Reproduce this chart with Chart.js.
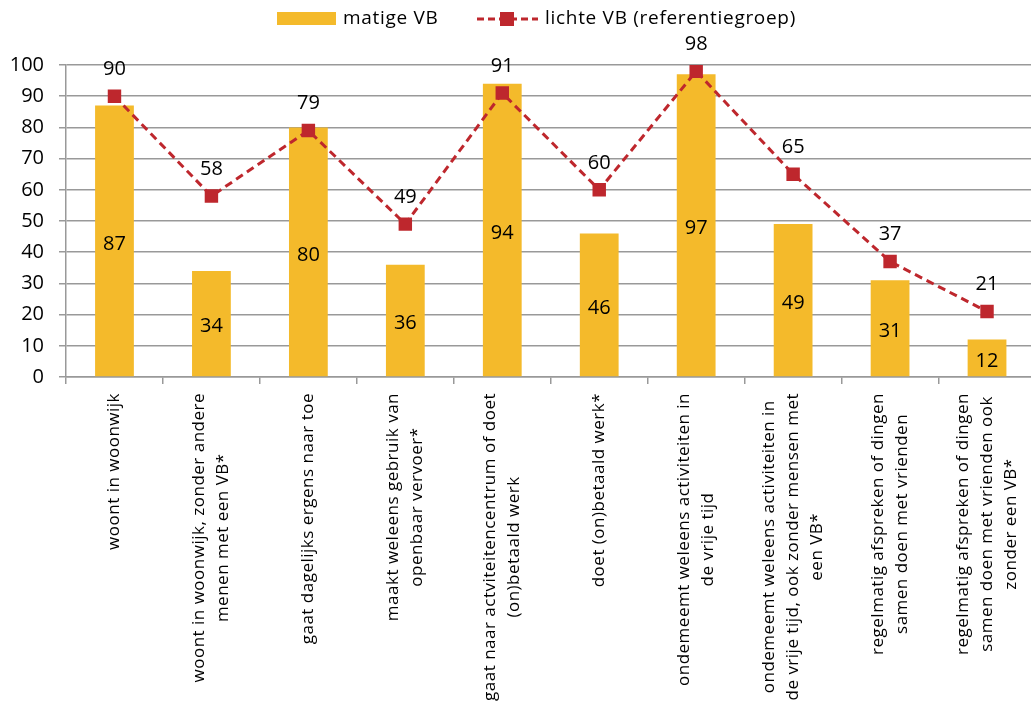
<!DOCTYPE html>
<html>
<head>
<meta charset="utf-8">
<script src="https://cdn.jsdelivr.net/npm/chart.js@4/dist/chart.umd.min.js"></script>
<style>
  html, body { margin: 0; padding: 0; background: #fff; overflow: hidden; }
</style>
</head>
<body>
<canvas id="chart" width="1045" height="706"></canvas>
<script>
// categories (each label split into its lines)
const categories = [
  ['woont in woonwijk'],
  ['woont in woonwijk, zonder andere', 'menen met een VB*'],
  ['gaat dagelijks ergens naar toe'],
  ['maakt weleens gebruik van', 'openbaar vervoer*'],
  ['gaat naar actviteitencentrum of doet', '(on)betaald werk'],
  ['doet (on)betaald werk*'],
  ['ondemeemt weleens activiteiten in', 'de vrije tijd'],
  ['ondemeemt weleens activiteiten in', 'de vrije tijd, ook zonder mensen met', 'een VB*'],
  ['regelmatig afspreken of dingen', 'samen doen met vrienden'],
  ['regelmatig afspreken of dingen', 'samen doen met vrienden ook', 'zonder een VB*']
];
const matigeVB = [87, 34, 80, 36, 94, 46, 97, 49, 31, 12];
const lichteVB = [90, 58, 79, 49, 91, 60, 98, 65, 37, 21];
const yMin = 0, yMax = 100, yStep = 10;

const seriesNames = ['matige VB', 'lichte VB (referentiegroep)'];
const barColor = '#F4BA2B';
const lineColor = '#BE272D';
const gridColor = '#999999';
const FONT = "'Open Sans', sans-serif";

// value labels: middle of the bars, above the line points
const valueLabels = {
  id: 'valueLabels',
  afterDatasetsDraw(chart) {
    const ctx = chart.ctx;
    ctx.save();
    ctx.font = '20px ' + FONT;
    ctx.fillStyle = '#000';
    ctx.textAlign = 'center';
    ctx.textBaseline = 'middle';
    chart.data.datasets.forEach((ds, di) => {
      const meta = chart.getDatasetMeta(di);
      meta.data.forEach((el, i) => {
        if (ds.type === 'line') {
          ctx.fillText(ds.data[i], el.x, el.y - 27);
        } else {
          ctx.fillText(ds.data[i], el.x, (el.y + el.base) / 2 + 3);
        }
      });
    });
    ctx.restore();
  }
};

// rotated multi-line category labels, lines centred on each other
const categoryLabels = {
  id: 'categoryLabels',
  afterDraw(chart) {
    const ctx = chart.ctx;
    const xs = chart.scales.x;
    ctx.save();
    ctx.letterSpacing = '0.5px';
    ctx.font = '17px ' + FONT;
    ctx.fillStyle = '#000';
    ctx.textAlign = 'center';
    ctx.textBaseline = 'middle';
    categories.forEach((lines, i) => {
      const x = xs.getPixelForValue(i);
      const maxW = Math.max(...lines.map(l => ctx.measureText(l).width));
      const cy = xs.top + 16 + maxW / 2;
      lines.forEach((line, j) => {
        const lx = x + (j - (lines.length - 1) / 2) * 24;
        ctx.save();
        ctx.translate(lx, cy);
        ctx.rotate(-Math.PI / 2);
        ctx.fillText(line, 0, 0);
        ctx.restore();
      });
    });
    ctx.restore();
  }
};

// legend in the top strip
const topLegend = {
  id: 'topLegend',
  afterDraw(chart) {
    const ctx = chart.ctx;
    const bars = chart.data.datasets.find(d => d.type === 'bar');
    const line = chart.data.datasets.find(d => d.type === 'line');
    ctx.save();
    ctx.letterSpacing = '0.7px';
    ctx.font = '19px ' + FONT;
    ctx.textBaseline = 'middle';
    ctx.textAlign = 'left';
    ctx.fillStyle = bars.backgroundColor;
    ctx.fillRect(277, 12, 59, 13);
    ctx.fillStyle = '#000';
    ctx.fillText(bars.label, 343, 19);

    ctx.strokeStyle = line.borderColor;
    ctx.lineWidth = 3;
    ctx.setLineDash([7, 4]);
    ctx.beginPath();
    ctx.moveTo(477, 19);
    ctx.lineTo(538, 19);
    ctx.stroke();
    ctx.fillStyle = line.borderColor;
    ctx.fillRect(500, 12, 14, 14);
    ctx.fillStyle = '#000';
    ctx.fillText(line.label, 545, 19);
    ctx.restore();
  }
};

new Chart(document.getElementById('chart'), {
  data: {
    labels: categories.map(c => c.join(' ')),
    datasets: [
      {
        type: 'line',
        label: seriesNames[1],
        data: lichteVB,
        borderColor: lineColor,
        backgroundColor: lineColor,
        borderWidth: 3,
        borderDash: [8, 5],
        pointStyle: 'rect',
        pointRadius: 9.5,
        pointBorderWidth: 0,
        pointBackgroundColor: lineColor,
        fill: false,
        tension: 0,
        order: 0
      },
      {
        type: 'bar',
        label: seriesNames[0],
        data: matigeVB,
        backgroundColor: barColor,
        barPercentage: 0.4,
        categoryPercentage: 1,
        order: 1
      }
    ]
  },
  options: {
    responsive: false,
    animation: false,
    events: [],
    layout: { padding: { top: 65, right: 4, left: 0, bottom: 0 } },
    plugins: {
      legend: { display: false },
      tooltip: { enabled: false }
    },
    scales: {
      x: {
        offset: true,
        ticks: { display: false },
        grid: { drawOnChartArea: false, drawTicks: true, tickLength: 7, color: gridColor, lineWidth: 1.5, offset: true },
        border: { color: gridColor, width: 1.5 },
        afterFit(scale) { scale.height = 706 - 377; }
      },
      y: {
        min: yMin,
        max: yMax,
        ticks: {
          stepSize: yStep,
          color: '#000',
          padding: 15,
          font: { family: FONT, size: 20 }
        },
        grid: { color: gridColor, lineWidth: 1.5, tickLength: 7 },
        border: { color: gridColor, width: 1.5 },
        afterFit(scale) { scale.width = 66; }
      }
    }
  },
  plugins: [valueLabels, categoryLabels, topLegend]
});
</script>
</body>
</html>
